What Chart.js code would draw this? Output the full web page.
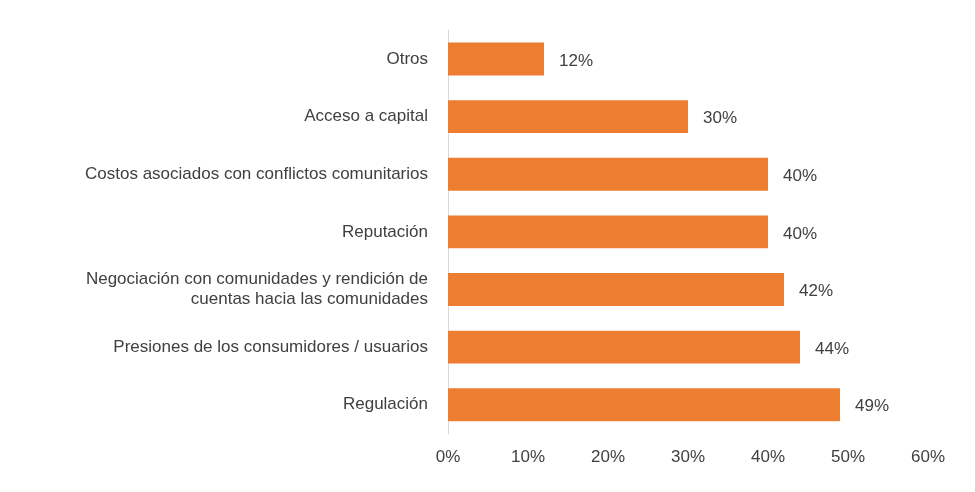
<!DOCTYPE html>
<html><head><meta charset="utf-8">
<script src="https://cdn.jsdelivr.net/npm/chart.js@4/dist/chart.umd.min.js"></script>
<style>html,body{margin:0;padding:0;background:#fff}#w{width:975px;height:492px}</style>
</head><body><div id="w"><canvas id="c"></canvas></div>
<script>
const categories = ['Otros','Acceso a capital','Costos asociados con conflictos comunitarios','Reputación',['Negociación con comunidades y rendición de','cuentas hacia las comunidades'],'Presiones de los consumidores / usuarios','Regulación'];
const values = [12,30,40,40,42,44,49];
const xTicks = [0,10,20,30,40,50,60];
const FONT = "'Liberation Sans', Arial, sans-serif";
const labelPlugin = {
  id:'vl',
  afterDatasetsDraw(chart){
    const ctx=chart.ctx, meta=chart.getDatasetMeta(0);
    ctx.save();ctx.fillStyle='#404040';ctx.font='17px '+FONT;ctx.textBaseline='middle';ctx.textAlign='left';
    meta.data.forEach((b,i)=>{ctx.fillText(values[i]+'%', b.x+15, b.y+2);});
    ctx.restore();
  }
};
new Chart(document.getElementById('c'),{
  type:'bar',
  data:{labels:categories,datasets:[{data:values,backgroundColor:'#ED7D31',categoryPercentage:0.57,barPercentage:1}]},
  options:{
    indexAxis:'y',responsive:true,maintainAspectRatio:false,animation:false,
    layout:{padding:{left:10,right:47,top:27,bottom:10}},
    plugins:{legend:{display:false},tooltip:{enabled:false}},
    scales:{
      x:{min:0,max:60,afterBuildTicks(s){s.ticks=xTicks.map(v=>({value:v}));},
        grid:{display:false,drawTicks:false},border:{display:false},
        ticks:{color:'#404040',font:{size:17,family:FONT},padding:14,callback:v=>v+'%'}},
      y:{grid:{display:false,drawTicks:false},border:{display:true,color:'#d9d9d9',width:1},
        afterFit(s){s.width=438;},
        ticks:{color:'#404040',font:{size:17,family:FONT},padding:20}}
    }
  },
  plugins:[labelPlugin]
});
</script></body></html>
